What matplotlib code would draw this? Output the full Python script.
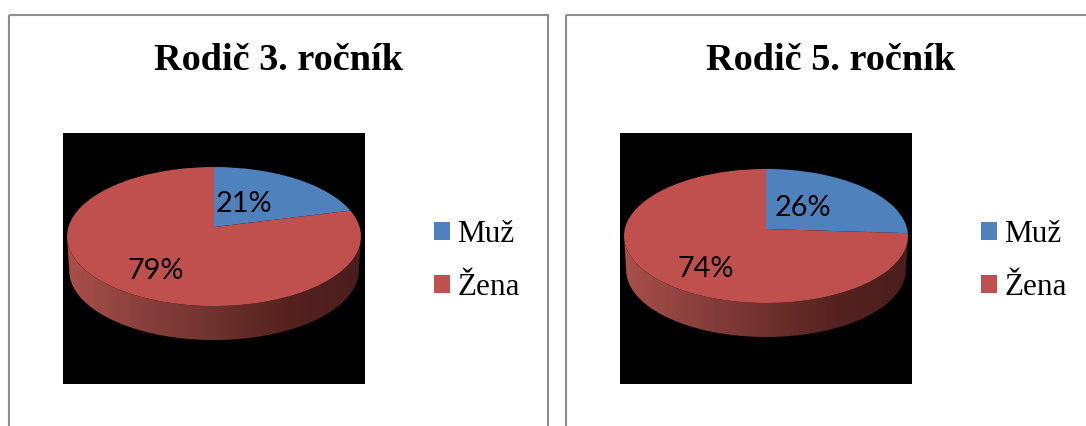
import numpy as np
import matplotlib
matplotlib.use('Agg')
import matplotlib.pyplot as plt
from matplotlib.colors import LinearSegmentedColormap
from matplotlib.patches import Polygon, Rectangle
from matplotlib.transforms import Transform

W, H = 1086, 426

categories = ['Muž', 'Žena']
colors = ['#4f81bd', '#c0504d']
titles = ['Rodič 3. ročník', 'Rodič 5. ročník']
values_3 = [21, 79]
values_5 = [26, 74]

rim_cmap = LinearSegmentedColormap.from_list(
    'rim', ['#a84f4b', '#8a403c', '#6f322e', '#55221f', '#4a1e1c'])


class Tilt(Transform):
    # perspective of the flat pie, far side gets shorter
    input_dims = output_dims = 2

    def __init__(self, bx, ay, p):
        super().__init__()
        self.bx, self.ay, self.p = bx, ay, p

    def transform_non_affine(self, xy):
        xy = np.asarray(xy)
        w = 1 + self.p * xy[:, 1]
        return np.column_stack([self.bx * xy[:, 0] / w, self.ay * xy[:, 1] / w])


def px_axes(fig, x0, y0, x1, y1):
    return fig.add_axes([x0 / W, 1 - y1 / H, (x1 - x0) / W, (y1 - y0) / H])


def draw_chart(fig, bg, values, title, frame, box, pivot, shape, depth, label_pos, title_x, legend_xy):
    bg.add_patch(Rectangle((frame[0], 15), frame[1] - frame[0], H, fill=False,
                           edgecolor='#8e8e8e', linewidth=1.5))
    bg.text(title_x, 61, title, family='Liberation Serif', weight='bold', fontsize=27.5,
            ha='center', va='center', color='black')

    ax = px_axes(fig, *box)
    ax.set_facecolor('black')
    wedges, _, autotexts = ax.pie(values, colors=colors, startangle=90, counterclock=False,
                                  autopct='%.0f%%', frame=True,
                                  textprops={'family': 'Lato', 'fontsize': 20.8, 'color': 'black'})
    tilt = Tilt(*shape)
    for w in wedges:
        w.set_transform(tilt + ax.transData)
        w.set_zorder(2)
        w.set_linewidth(0)

    # side wall below the front edge of the pie
    t = np.linspace(0, 2 * np.pi, 721)
    outline = tilt.transform_non_affine(np.column_stack([np.cos(t), np.sin(t)]))
    left, right = outline[:, 0].argmin(), outline[:, 0].argmax()
    front = outline[left:right + 1] if left < right else np.vstack([outline[left:], outline[:right + 1]])
    lower = front * [0.985, 1] + [0, -depth]
    wall = Polygon(np.vstack([front, lower[::-1]]), closed=True, transform=ax.transData)
    grad = np.linspace(0, 1, 256).reshape(1, -1)
    im = ax.imshow(grad, cmap=rim_cmap, aspect='auto', zorder=1,
                   extent=[front[:, 0].min(), front[:, 0].max(), lower[:, 1].min(), front[:, 1].max()])
    im.set_clip_path(wall)

    for txt, (lx, ly) in zip(autotexts, label_pos):
        txt.set_position((lx - pivot[0], pivot[1] - ly))
        txt.set_zorder(3)

    ax.set_aspect('auto')
    ax.set_xlim(box[0] - pivot[0], box[2] - pivot[0])
    ax.set_ylim(pivot[1] - box[3], pivot[1] - box[1])
    ax.set_xticks([])
    ax.set_yticks([])
    for s in ax.spines.values():
        s.set_visible(False)

    fig.legend(wedges, categories, loc='upper left',
               bbox_to_anchor=(legend_xy[0] / W, 1 - legend_xy[1] / H),
               frameon=False, borderpad=0, borderaxespad=0, labelspacing=0.77,
               handlelength=0.52, handleheight=0.52, handletextpad=0.23,
               prop={'family': 'Liberation Serif', 'size': 22.5})


fig = plt.figure(figsize=(W / 100, H / 100), dpi=100, facecolor='white')
bg = fig.add_axes([0, 0, 1, 1])
bg.set_xlim(0, W)
bg.set_ylim(H, 0)
bg.axis('off')

draw_chart(fig, bg, values_3, titles[0], (8.5, 548), (63, 133, 365, 384), (214, 227),
           (145.6, 68.2, 0.137), 34, [(244, 204), (156, 271)], 278.5, (434, 220))
draw_chart(fig, bg, values_5, titles[1], (566, W + 5), (620, 133, 912, 384), (766, 229),
           (141.2, 66.3, 0.104), 34, [(803, 208), (706, 269)], 831, (981, 220))

fig.savefig('out.png', dpi=100)
